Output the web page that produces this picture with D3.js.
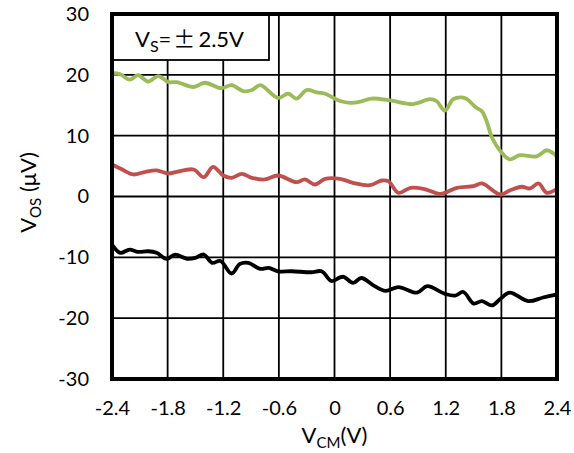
<!DOCTYPE html>
<html>
<head>
<meta charset="utf-8">
<script src="https://cdn.jsdelivr.net/npm/d3@7"></script>
<style>
  body { margin: 0; background: #fff; }
  text { font-family: Lato, "Open Sans", sans-serif; fill: #000; }
</style>
</head>
<body>
<svg width="574" height="453"></svg>
<script>
var svg = d3.select("svg"),
    width = +svg.attr("width"),
    height = +svg.attr("height");

var margin = {top: 14, right: 17, bottom: 74, left: 112};
var innerW = width - margin.left - margin.right,
    innerH = height - margin.top - margin.bottom;

// tick values / labels
var xTicks = [-2.4, -1.8, -1.2, -0.6, 0, 0.6, 1.2, 1.8, 2.4];
var xTickLabels = ["-2.4", "-1.8", "-1.2", "-0.6", "0", "0.6", "1.2", "1.8", "2.4"];
var yTicks = [-30, -20, -10, 0, 10, 20, 30];
var yTickLabels = ["-30", "-20", "-10", "0", "10", "20", "30"];

// green series
var greenX = [-2.40, -2.31, -2.21, -2.12, -2.01, -1.90, -1.79, -1.70, -1.52, -1.40, -1.22, -1.11,
  -0.98, -0.89, -0.80, -0.61, -0.50, -0.41, -0.30, -0.19, -0.10, 0.06, 0.17, 0.28, 0.40, 0.60,
  0.85, 1.03, 1.10, 1.19, 1.28, 1.37, 1.43, 1.52, 1.59, 1.64, 1.70, 1.79, 1.89, 2.00, 2.18, 2.29,
  2.36, 2.40];
var greenY = [20.3, 20.1, 19.2, 19.95, 18.9, 19.8, 18.8, 18.8, 18.0, 18.7, 17.8, 18.3,
  17.3, 17.5, 18.3, 16.2, 16.9, 16.1, 17.5, 17.1, 16.9, 15.7, 15.4, 15.6, 16.1, 15.8,
  15.2, 16.0, 15.7, 14.1, 16.0, 16.3, 16.0, 14.7, 14.0, 12.4, 9.65, 7.45, 6.1, 6.8, 6.6, 7.6,
  7.1, 6.5];

// red series
var redX = [-2.40, -2.29, -2.17, -2.04, -1.92, -1.79, -1.70, -1.52, -1.41, -1.31, -1.20, -1.11,
  -1.00, -0.89, -0.75, -0.61, -0.41, -0.32, -0.21, -0.10, 0.06, 0.20, 0.38, 0.51, 0.58, 0.69,
  0.82, 0.96, 1.14, 1.32, 1.50, 1.59, 1.79, 1.89, 2.02, 2.11, 2.20, 2.29, 2.40];
var redY = [5.26, 4.44, 3.62, 4.06, 4.28, 3.78, 4.06, 4.44, 3.18, 4.88, 3.45, 3.07,
  3.73, 3.07, 2.80, 3.45, 2.35, 2.80, 1.97, 2.91, 2.91, 2.25, 1.86, 2.63, 2.52, 0.6,
  1.43, 1.27, 0.44, 1.43, 1.70, 2.14, 0.33, 0.99, 1.60, 1.32, 2.14, 0.61, 1.27];

// black series
var blackX = [-2.40, -2.31, -2.21, -2.12, -2.01, -1.92, -1.81, -1.72, -1.59, -1.50, -1.41, -1.32,
  -1.23, -1.11, -1.02, -0.93, -0.80, -0.71, -0.61, -0.46, -0.25, -0.14, -0.03, 0.06, 0.10, 0.20,
  0.29, 0.42, 0.55, 0.69, 0.89, 1.00, 1.19, 1.30, 1.39, 1.50, 1.59, 1.70, 1.79, 1.89, 2.09, 2.25,
  2.40];
var blackY = [-7.9, -9.26, -8.72, -9.1, -9.0, -9.26, -10.25, -9.54, -10.25, -10.09, -9.54, -10.9,
  -10.6, -12.66, -11.07, -10.9, -11.9, -11.73, -12.29, -12.29, -12.45, -12.29, -13.9, -13.3, -13.2, -14.2,
  -13.4, -14.6, -15.5, -14.9, -15.8, -14.75, -16.0, -16.3, -15.7, -17.6, -17.2, -17.9, -16.8, -15.8, -17.2, -16.6,
  -16.1];

var series = [
  {name: "green", color: "#9BBB59", xs: greenX, ys: greenY},
  {name: "red", color: "#C0504D", xs: redX, ys: redY},
  {name: "black", color: "#000000", xs: blackX, ys: blackY}
];

var x = d3.scaleLinear().domain([-2.4, 2.4]).range([0, innerW]);
var y = d3.scaleLinear().domain([-30, 30]).range([innerH, 0]);

var g = svg.append("g").attr("transform", "translate(" + margin.left + "," + margin.top + ")");

// grid
g.append("g")
    .attr("class", "grid")
  .selectAll("line.v")
  .data(xTicks)
  .enter().append("line")
    .attr("x1", function(d) { return x(d); })
    .attr("x2", function(d) { return x(d); })
    .attr("y1", 0)
    .attr("y2", innerH)
    .attr("stroke", "#000")
    .attr("stroke-width", 1.8);

g.append("g")
    .attr("class", "grid")
  .selectAll("line.h")
  .data(yTicks)
  .enter().append("line")
    .attr("x1", 0)
    .attr("x2", innerW)
    .attr("y1", function(d) { return y(d); })
    .attr("y2", function(d) { return y(d); })
    .attr("stroke", "#000")
    .attr("stroke-width", 1.8);

// axes (labels only)
var xAxis = g.append("g")
    .attr("transform", "translate(0," + innerH + ")")
    .call(d3.axisBottom(x).tickValues(xTicks).tickSize(0).tickPadding(22)
      .tickFormat(function(d, i) { return xTickLabels[i]; }));
var yAxis = g.append("g")
    .call(d3.axisLeft(y).tickValues(yTicks).tickSize(0).tickPadding(23)
      .tickFormat(function(d, i) { return yTickLabels[i]; }));
[xAxis, yAxis].forEach(function(a) {
  a.select(".domain").remove();
  a.selectAll("text").style("font-size", "20px").style("font-family", "Lato, sans-serif");
});

// legend box
var legW = 157;
g.append("rect")
    .attr("x", 0)
    .attr("y", 0)
    .attr("width", legW)
    .attr("height", 46)
    .attr("fill", "#fff")
    .attr("stroke", "#000")
    .attr("stroke-width", 1.8);

var leg = g.append("text")
    .attr("x", legW / 2 - 1)
    .attr("y", 33)
    .attr("text-anchor", "middle")
    .style("font-size", "22px");
leg.append("tspan").text("V");
leg.append("tspan").attr("dy", 5).style("font-size", "16px").text("S");
leg.append("tspan").attr("dy", -5).text("=");
leg.append("tspan").attr("dx", 2).style("font-family", "'Noto Sans CJK JP', sans-serif")
    .style("font-size", "22px").text("\u00B1");
leg.append("tspan").attr("dx", 3).text("2.5V");

// lines
var line = d3.line()
    .x(function(d) { return x(d[0]); })
    .y(function(d) { return y(d[1]); })
    .curve(d3.curveCatmullRom.alpha(0.5));

g.selectAll("path.series")
  .data(series)
  .enter().append("path")
    .attr("class", "series")
    .attr("fill", "none")
    .attr("stroke", function(d) { return d.color; })
    .attr("stroke-width", 3.8)
    .attr("stroke-linejoin", "round")
    .attr("d", function(d) { return line(d3.zip(d.xs, d.ys)); });

// frame
g.append("rect")
    .attr("x", 0)
    .attr("y", 0)
    .attr("width", innerW)
    .attr("height", innerH)
    .attr("fill", "none")
    .attr("stroke", "#000")
    .attr("stroke-width", 4);

// axis titles
var xt = svg.append("text")
    .attr("x", margin.left + x(0))
    .attr("y", 443)
    .attr("text-anchor", "middle")
    .style("font-size", "22px");
xt.append("tspan").text("V");
xt.append("tspan").attr("dy", 5).style("font-size", "15px").text("CM");
xt.append("tspan").attr("dy", -5).text("(V)");

var yt = svg.append("text")
    .attr("transform", "translate(36," + (margin.top + y(0) - 4) + ") rotate(-90)")
    .attr("text-anchor", "middle")
    .style("font-size", "22px");
yt.append("tspan").text("V");
yt.append("tspan").attr("dy", 5).style("font-size", "15px").text("OS");
yt.append("tspan").attr("dy", -5).text(" (\u03BCV)");
</script>
</body>
</html>
